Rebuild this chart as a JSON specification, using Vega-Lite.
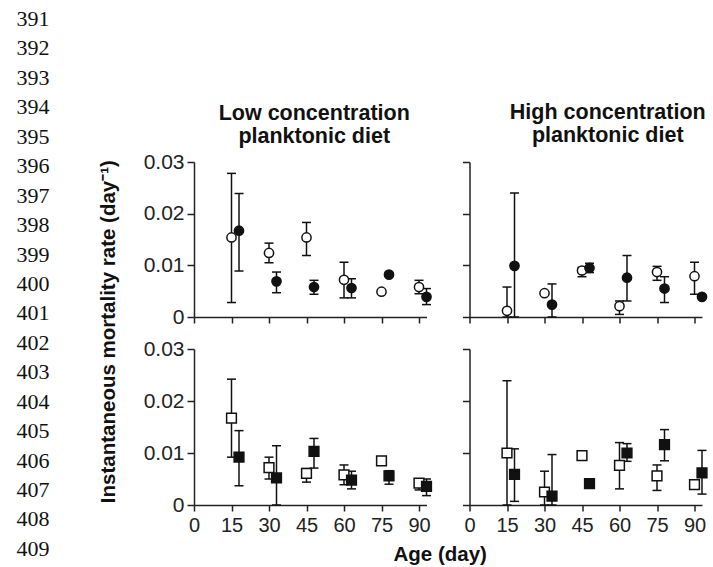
{
  "$schema": "https://vega.github.io/schema/vega-lite/v6.json",
  "padding": {"left": 8, "top": 8, "right": 0, "bottom": 0},
  "background": "white",
  "config": {
    "view": {"stroke": null},
    "font": "Liberation Sans",
    "axis": {"grid": false, "domainColor": "#222", "domainWidth": 1.5, "tickColor": "#222", "tickWidth": 1.5, "labelColor": "#222", "labelFont": "Liberation Sans", "labelFlush": false},
    "title": {"font": "Liberation Sans", "fontSize": 21.5, "fontWeight": "bold", "color": "#111", "lineHeight": 22.5, "offset": 11}
  },
  "datasets": {
    "lines": [{"n": 391},{"n": 392},{"n": 393},{"n": 394},{"n": 395},{"n": 396},{"n": 397},{"n": 398},{"n": 399},{"n": 400},{"n": 401},{"n": 402},{"n": 403},{"n": 404},{"n": 405},{"n": 406},{"n": 407},{"n": 408},{"n": 409}],
    "mort": [
      {"diet": "Low", "marker": "circle", "group": "open", "day": 15, "value": 0.0154, "lo": 0.0028, "hi": 0.0278},
      {"diet": "Low", "marker": "circle", "group": "open", "day": 30, "value": 0.0124, "lo": 0.0105, "hi": 0.0143},
      {"diet": "Low", "marker": "circle", "group": "open", "day": 45, "value": 0.0154, "lo": 0.0119, "hi": 0.0183},
      {"diet": "Low", "marker": "circle", "group": "open", "day": 60, "value": 0.0072, "lo": 0.0037, "hi": 0.0106},
      {"diet": "Low", "marker": "circle", "group": "open", "day": 75, "value": 0.0049, "lo": 0.0049, "hi": 0.0049},
      {"diet": "Low", "marker": "circle", "group": "open", "day": 90, "value": 0.0058, "lo": 0.0045, "hi": 0.0071},
      {"diet": "Low", "marker": "circle", "group": "filled", "day": 18, "value": 0.0167, "lo": 0.0089, "hi": 0.0239},
      {"diet": "Low", "marker": "circle", "group": "filled", "day": 33, "value": 0.0069, "lo": 0.0047, "hi": 0.0087},
      {"diet": "Low", "marker": "circle", "group": "filled", "day": 48, "value": 0.0058, "lo": 0.0044, "hi": 0.0071},
      {"diet": "Low", "marker": "circle", "group": "filled", "day": 63, "value": 0.0056, "lo": 0.0037, "hi": 0.0074},
      {"diet": "Low", "marker": "circle", "group": "filled", "day": 78, "value": 0.0082, "lo": 0.0082, "hi": 0.0082},
      {"diet": "Low", "marker": "circle", "group": "filled", "day": 93, "value": 0.0039, "lo": 0.0024, "hi": 0.0055},
      {"diet": "High", "marker": "circle", "group": "open", "day": 15, "value": 0.0012, "lo": 0, "hi": 0.0058},
      {"diet": "High", "marker": "circle", "group": "open", "day": 30, "value": 0.0046, "lo": 0.0046, "hi": 0.0046},
      {"diet": "High", "marker": "circle", "group": "open", "day": 45, "value": 0.009, "lo": 0.0078, "hi": 0.0096},
      {"diet": "High", "marker": "circle", "group": "open", "day": 60, "value": 0.0021, "lo": 0.0005, "hi": 0.0031},
      {"diet": "High", "marker": "circle", "group": "open", "day": 75, "value": 0.0087, "lo": 0.0071, "hi": 0.0098},
      {"diet": "High", "marker": "circle", "group": "open", "day": 90, "value": 0.0079, "lo": 0.0044, "hi": 0.0106},
      {"diet": "High", "marker": "circle", "group": "filled", "day": 18, "value": 0.0099, "lo": 0, "hi": 0.024},
      {"diet": "High", "marker": "circle", "group": "filled", "day": 33, "value": 0.0024, "lo": 0, "hi": 0.0064},
      {"diet": "High", "marker": "circle", "group": "filled", "day": 48, "value": 0.0095, "lo": 0.0086, "hi": 0.0104},
      {"diet": "High", "marker": "circle", "group": "filled", "day": 63, "value": 0.0076, "lo": 0.0031, "hi": 0.0119},
      {"diet": "High", "marker": "circle", "group": "filled", "day": 78, "value": 0.0055, "lo": 0.0028, "hi": 0.0078},
      {"diet": "High", "marker": "circle", "group": "filled", "day": 93, "value": 0.0039, "lo": 0.0039, "hi": 0.0039},
      {"diet": "Low", "marker": "square", "group": "open", "day": 15, "value": 0.0167, "lo": 0.0092, "hi": 0.0242},
      {"diet": "Low", "marker": "square", "group": "open", "day": 30, "value": 0.0072, "lo": 0.005, "hi": 0.0092},
      {"diet": "Low", "marker": "square", "group": "open", "day": 45, "value": 0.0061, "lo": 0.0044, "hi": 0.007},
      {"diet": "Low", "marker": "square", "group": "open", "day": 60, "value": 0.0058, "lo": 0.0039, "hi": 0.0077},
      {"diet": "Low", "marker": "square", "group": "open", "day": 75, "value": 0.0085, "lo": 0.0085, "hi": 0.0085},
      {"diet": "Low", "marker": "square", "group": "open", "day": 90, "value": 0.0042, "lo": 0.0029, "hi": 0.005},
      {"diet": "Low", "marker": "square", "group": "filled", "day": 18, "value": 0.0092, "lo": 0.0037, "hi": 0.0143},
      {"diet": "Low", "marker": "square", "group": "filled", "day": 33, "value": 0.0052, "lo": 0, "hi": 0.0114},
      {"diet": "Low", "marker": "square", "group": "filled", "day": 48, "value": 0.0103, "lo": 0.0071, "hi": 0.0128},
      {"diet": "Low", "marker": "square", "group": "filled", "day": 63, "value": 0.0048, "lo": 0.0031, "hi": 0.0065},
      {"diet": "Low", "marker": "square", "group": "filled", "day": 78, "value": 0.0056, "lo": 0.004, "hi": 0.0066},
      {"diet": "Low", "marker": "square", "group": "filled", "day": 93, "value": 0.0036, "lo": 0.0018, "hi": 0.005},
      {"diet": "High", "marker": "square", "group": "open", "day": 15, "value": 0.01, "lo": 0, "hi": 0.0239},
      {"diet": "High", "marker": "square", "group": "open", "day": 30, "value": 0.0025, "lo": 0, "hi": 0.0065},
      {"diet": "High", "marker": "square", "group": "open", "day": 45, "value": 0.0095, "lo": 0.0095, "hi": 0.0095},
      {"diet": "High", "marker": "square", "group": "open", "day": 60, "value": 0.0076, "lo": 0.0031, "hi": 0.012},
      {"diet": "High", "marker": "square", "group": "open", "day": 75, "value": 0.0056, "lo": 0.0028, "hi": 0.0077},
      {"diet": "High", "marker": "square", "group": "open", "day": 90, "value": 0.0039, "lo": 0.0039, "hi": 0.0039},
      {"diet": "High", "marker": "square", "group": "filled", "day": 18, "value": 0.0059, "lo": 0.0007, "hi": 0.0108},
      {"diet": "High", "marker": "square", "group": "filled", "day": 33, "value": 0.0017, "lo": 0, "hi": 0.0097},
      {"diet": "High", "marker": "square", "group": "filled", "day": 48, "value": 0.0041, "lo": 0.0041, "hi": 0.0041},
      {"diet": "High", "marker": "square", "group": "filled", "day": 63, "value": 0.01, "lo": 0.0084, "hi": 0.0118},
      {"diet": "High", "marker": "square", "group": "filled", "day": 78, "value": 0.0116, "lo": 0.0085, "hi": 0.0145},
      {"diet": "High", "marker": "square", "group": "filled", "day": 93, "value": 0.0062, "lo": 0.0021, "hi": 0.0105}
    ]
  },
  "data": {"name": "mort"},
  "bounds": "flush",
  "spacing": 136,
  "hconcat": [
    {
      "data": {"name": "lines"},
      "width": 50,
      "height": 343,
      "mark": {"type": "text", "font": "Liberation Serif", "fontSize": 22, "color": "#111"},
      "encoding": {
        "y": {"field": "n", "type": "quantitative", "scale": {"domain": [395.857, 407.51], "reverse": true, "nice": false, "zero": false}, "axis": null},
        "text": {"field": "n", "type": "nominal"}
      }
    },
    {
      "title": {"text": "Age (day)", "orient": "bottom", "anchor": "middle", "offset": 10, "dx": 36, "fontSize": 20.5},
      "bounds": "flush",
      "vconcat": [
        {
          "title": {"text": "Instantaneous mortality rate (day⁻¹)", "orient": "left", "anchor": "middle", "offset": 24, "dx": -13, "fontSize": 20.5},
          "bounds": "flush",
          "columns": 2,
          "spacing": {"row": 32, "column": 42.5},
          "concat": [
            {
              "width": 232.5, "height": 155,
              "title": {"text": ["Low concentration", "planktonic diet"], "frame": "group", "dx": 4, "dy": 7},
              "transform": [{"filter": "datum.diet === 'Low' && datum.marker === 'circle'"}],
              "encoding": {"x": {"field": "day", "type": "quantitative", "scale": {"domain": [0, 93], "nice": false, "zero": false}, "axis": {"values": [0, 15, 30, 45, 60, 75, 90], "labels": false, "title": null, "tickSize": 6}}},
              "layer": [
                {"mark": {"type": "rule", "color": "#111", "strokeWidth": 1.5},
                 "encoding": {"y": {"field": "lo", "type": "quantitative", "scale": {"domain": [0, 0.03], "nice": false}, "axis": {"values": [0, 0.01, 0.02, 0.03], "labelExpr": "datum.value === 0 ? '0' : format(datum.value, '.2f')", "title": null, "tickSize": 7, "labelFontSize": 21, "labelPadding": 3}}, "y2": {"field": "hi"}}},
                {"mark": {"type": "tick", "orient": "horizontal", "color": "#111", "size": 9, "thickness": 1.5, "opacity": 1},
                 "encoding": {"y": {"field": "lo", "type": "quantitative", "scale": {"domain": [0, 0.03], "nice": false}, "axis": {"values": [0, 0.01, 0.02, 0.03], "labelExpr": "datum.value === 0 ? '0' : format(datum.value, '.2f')", "title": null, "tickSize": 7, "labelFontSize": 21, "labelPadding": 3}}}},
                {"mark": {"type": "tick", "orient": "horizontal", "color": "#111", "size": 9, "thickness": 1.5, "opacity": 1},
                 "encoding": {"y": {"field": "hi", "type": "quantitative", "scale": {"domain": [0, 0.03], "nice": false}, "axis": {"values": [0, 0.01, 0.02, 0.03], "labelExpr": "datum.value === 0 ? '0' : format(datum.value, '.2f')", "title": null, "tickSize": 7, "labelFontSize": 21, "labelPadding": 3}}}},
                {"mark": {"type": "point", "shape": "circle", "size": 85, "filled": true, "stroke": "#111", "strokeWidth": 1.5, "opacity": 1},
                 "encoding": {"y": {"field": "value", "type": "quantitative", "scale": {"domain": [0, 0.03], "nice": false}, "axis": {"values": [0, 0.01, 0.02, 0.03], "labelExpr": "datum.value === 0 ? '0' : format(datum.value, '.2f')", "title": null, "tickSize": 7, "labelFontSize": 21, "labelPadding": 3}},
                   "fill": {"field": "group", "type": "nominal", "scale": {"domain": ["open", "filled"], "range": ["white", "#111"]}, "legend": null}}}
              ]
            },
            {
              "width": 232.5, "height": 155,
              "title": {"text": ["High concentration", "planktonic diet"], "frame": "group", "dx": 22, "dy": -4},
              "transform": [{"filter": "datum.diet === 'High' && datum.marker === 'circle'"}],
              "encoding": {"x": {"field": "day", "type": "quantitative", "scale": {"domain": [0, 93], "nice": false, "zero": false}, "axis": {"values": [0, 15, 30, 45, 60, 75, 90], "labels": false, "title": null, "tickSize": 6}}},
              "layer": [
                {"mark": {"type": "rule", "color": "#111", "strokeWidth": 1.5},
                 "encoding": {"y": {"field": "lo", "type": "quantitative", "scale": {"domain": [0, 0.03], "nice": false}, "axis": {"values": [0, 0.01, 0.02, 0.03], "labels": false, "title": null, "tickSize": 7}}, "y2": {"field": "hi"}}},
                {"mark": {"type": "tick", "orient": "horizontal", "color": "#111", "size": 9, "thickness": 1.5, "opacity": 1},
                 "encoding": {"y": {"field": "lo", "type": "quantitative", "scale": {"domain": [0, 0.03], "nice": false}, "axis": {"values": [0, 0.01, 0.02, 0.03], "labels": false, "title": null, "tickSize": 7}}}},
                {"mark": {"type": "tick", "orient": "horizontal", "color": "#111", "size": 9, "thickness": 1.5, "opacity": 1},
                 "encoding": {"y": {"field": "hi", "type": "quantitative", "scale": {"domain": [0, 0.03], "nice": false}, "axis": {"values": [0, 0.01, 0.02, 0.03], "labels": false, "title": null, "tickSize": 7}}}},
                {"mark": {"type": "point", "shape": "circle", "size": 85, "filled": true, "stroke": "#111", "strokeWidth": 1.5, "opacity": 1},
                 "encoding": {"y": {"field": "value", "type": "quantitative", "scale": {"domain": [0, 0.03], "nice": false}, "axis": {"values": [0, 0.01, 0.02, 0.03], "labels": false, "title": null, "tickSize": 7}},
                   "fill": {"field": "group", "type": "nominal", "scale": {"domain": ["open", "filled"], "range": ["white", "#111"]}, "legend": null}}}
              ]
            },
            {
              "width": 232.5, "height": 156,
              "transform": [{"filter": "datum.diet === 'Low' && datum.marker === 'square'"}],
              "encoding": {"x": {"field": "day", "type": "quantitative", "scale": {"domain": [0, 93], "nice": false, "zero": false}, "axis": {"values": [0, 15, 30, 45, 60, 75, 90], "title": null, "tickSize": 6, "labelFontSize": 20, "labelPadding": 4}}},
              "layer": [
                {"mark": {"type": "rule", "color": "#111", "strokeWidth": 1.5},
                 "encoding": {"y": {"field": "lo", "type": "quantitative", "scale": {"domain": [0, 0.03], "nice": false}, "axis": {"values": [0, 0.01, 0.02, 0.03], "labelExpr": "datum.value === 0 ? '0' : format(datum.value, '.2f')", "title": null, "tickSize": 7, "labelFontSize": 21, "labelPadding": 3}}, "y2": {"field": "hi"}}},
                {"mark": {"type": "tick", "orient": "horizontal", "color": "#111", "size": 9, "thickness": 1.5, "opacity": 1},
                 "encoding": {"y": {"field": "lo", "type": "quantitative", "scale": {"domain": [0, 0.03], "nice": false}, "axis": {"values": [0, 0.01, 0.02, 0.03], "labelExpr": "datum.value === 0 ? '0' : format(datum.value, '.2f')", "title": null, "tickSize": 7, "labelFontSize": 21, "labelPadding": 3}}}},
                {"mark": {"type": "tick", "orient": "horizontal", "color": "#111", "size": 9, "thickness": 1.5, "opacity": 1},
                 "encoding": {"y": {"field": "hi", "type": "quantitative", "scale": {"domain": [0, 0.03], "nice": false}, "axis": {"values": [0, 0.01, 0.02, 0.03], "labelExpr": "datum.value === 0 ? '0' : format(datum.value, '.2f')", "title": null, "tickSize": 7, "labelFontSize": 21, "labelPadding": 3}}}},
                {"mark": {"type": "point", "shape": "square", "size": 95, "filled": true, "stroke": "#111", "strokeWidth": 1.5, "opacity": 1},
                 "encoding": {"y": {"field": "value", "type": "quantitative", "scale": {"domain": [0, 0.03], "nice": false}, "axis": {"values": [0, 0.01, 0.02, 0.03], "labelExpr": "datum.value === 0 ? '0' : format(datum.value, '.2f')", "title": null, "tickSize": 7, "labelFontSize": 21, "labelPadding": 3}},
                   "fill": {"field": "group", "type": "nominal", "scale": {"domain": ["open", "filled"], "range": ["white", "#111"]}, "legend": null}}}
              ]
            },
            {
              "width": 232.5, "height": 156,
              "transform": [{"filter": "datum.diet === 'High' && datum.marker === 'square'"}],
              "encoding": {"x": {"field": "day", "type": "quantitative", "scale": {"domain": [0, 93], "nice": false, "zero": false}, "axis": {"values": [0, 15, 30, 45, 60, 75, 90], "title": null, "tickSize": 6, "labelFontSize": 20, "labelPadding": 4}}},
              "layer": [
                {"mark": {"type": "rule", "color": "#111", "strokeWidth": 1.5},
                 "encoding": {"y": {"field": "lo", "type": "quantitative", "scale": {"domain": [0, 0.03], "nice": false}, "axis": {"values": [0, 0.01, 0.02, 0.03], "labels": false, "title": null, "tickSize": 7}}, "y2": {"field": "hi"}}},
                {"mark": {"type": "tick", "orient": "horizontal", "color": "#111", "size": 9, "thickness": 1.5, "opacity": 1},
                 "encoding": {"y": {"field": "lo", "type": "quantitative", "scale": {"domain": [0, 0.03], "nice": false}, "axis": {"values": [0, 0.01, 0.02, 0.03], "labels": false, "title": null, "tickSize": 7}}}},
                {"mark": {"type": "tick", "orient": "horizontal", "color": "#111", "size": 9, "thickness": 1.5, "opacity": 1},
                 "encoding": {"y": {"field": "hi", "type": "quantitative", "scale": {"domain": [0, 0.03], "nice": false}, "axis": {"values": [0, 0.01, 0.02, 0.03], "labels": false, "title": null, "tickSize": 7}}}},
                {"mark": {"type": "point", "shape": "square", "size": 95, "filled": true, "stroke": "#111", "strokeWidth": 1.5, "opacity": 1},
                 "encoding": {"y": {"field": "value", "type": "quantitative", "scale": {"domain": [0, 0.03], "nice": false}, "axis": {"values": [0, 0.01, 0.02, 0.03], "labels": false, "title": null, "tickSize": 7}},
                   "fill": {"field": "group", "type": "nominal", "scale": {"domain": ["open", "filled"], "range": ["white", "#111"]}, "legend": null}}}
              ]
            }
          ]
        }
      ]
    }
  ]
}
